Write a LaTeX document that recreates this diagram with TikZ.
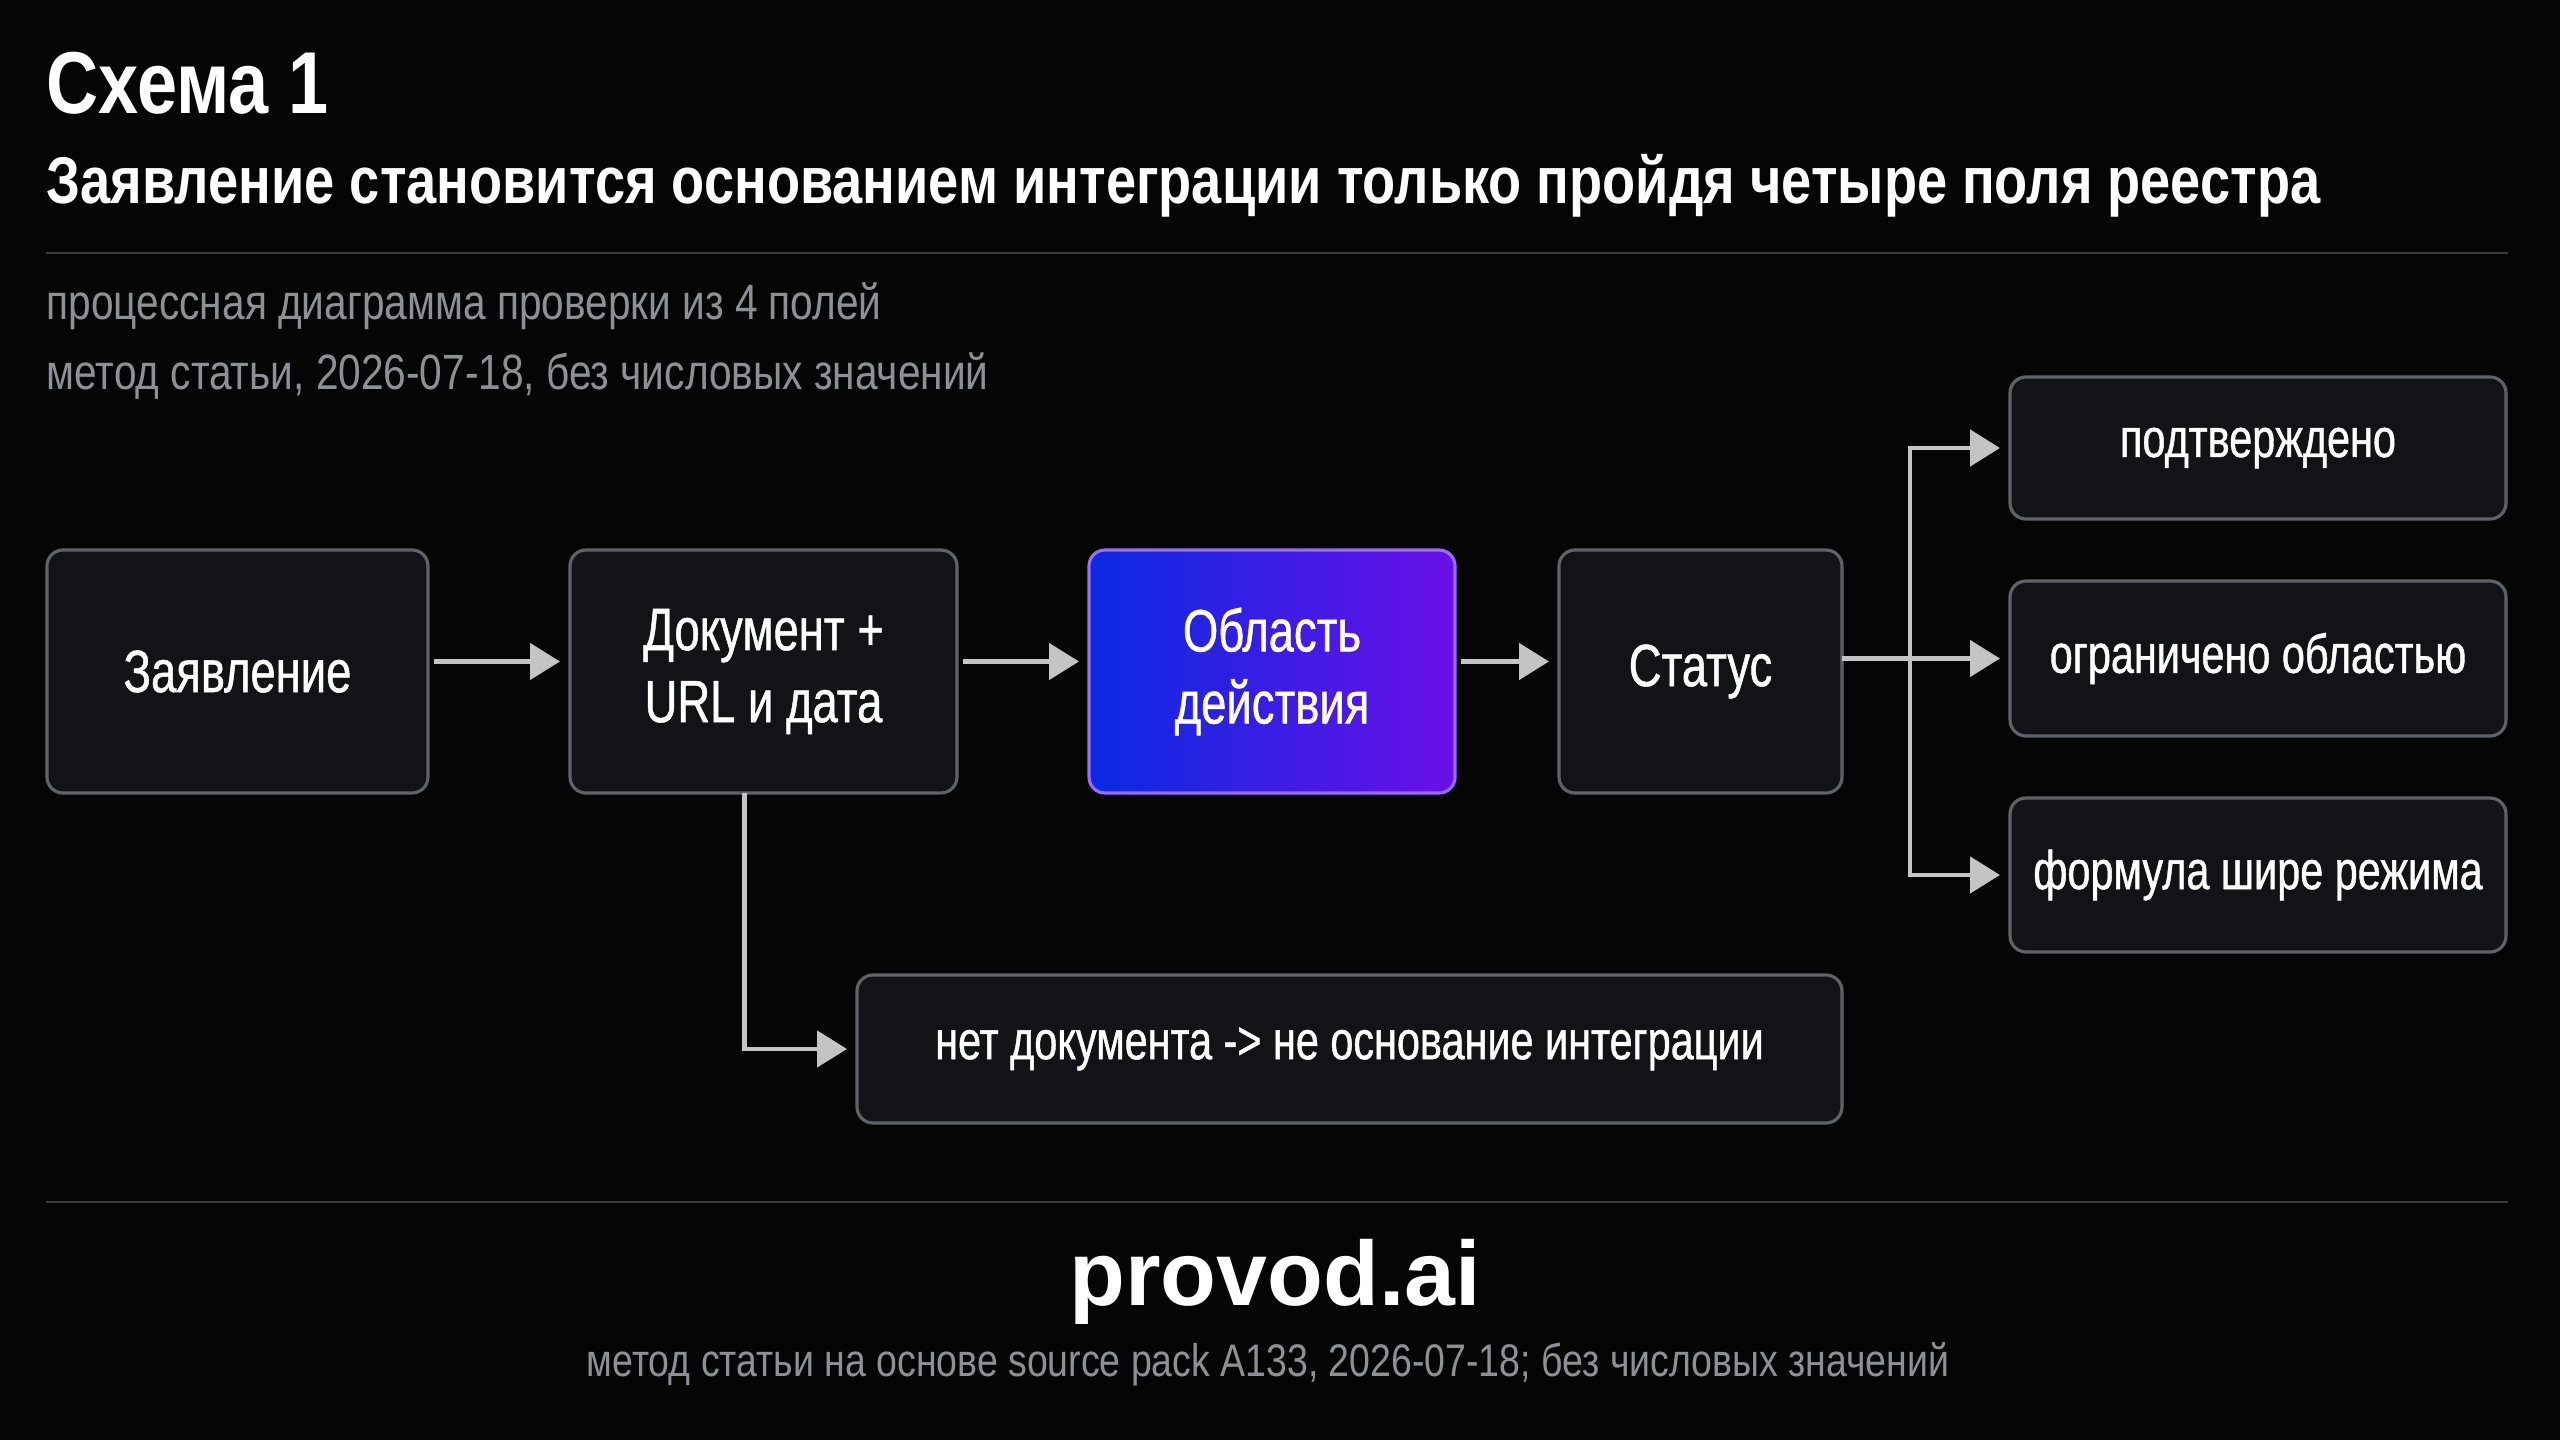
\documentclass[tikz,border=0pt]{standalone}
\usepackage{fontspec}
\setmainfont{Liberation Sans}[FakeStretch=0.82]
\newfontfamily\brandfont{Liberation Sans}
\newfontfamily\boxfont{Liberation Sans}[FakeStretch=0.76, FakeBold=0.8]
\usepackage{xcolor}
\usepackage{tikz}
\usetikzlibrary{arrows.meta,shapes,fit,calc,positioning}

\definecolor{bg}{HTML}{050505}
\definecolor{boxfill}{HTML}{111316}
\definecolor{boxline}{HTML}{5F6266}
\definecolor{arrowc}{HTML}{C4C4C4}
\definecolor{muted}{HTML}{8E9096}
\definecolor{rulec}{HTML}{3B3B3B}
\definecolor{oblL}{HTML}{0A2AE0}
\definecolor{oblR}{HTML}{6A10E8}
\definecolor{oblB}{HTML}{9A6BFF}

\begin{document}
\begin{tikzpicture}[
  >={Triangle[length=0.3cm,width=0.36cm]},
  box/.style={draw=boxline, line width=0.9pt, fill=boxfill, rounded corners=0.16cm, text=white, align=center, outer sep=0pt, font=\boxfont\fontsize{15.5}{20}\selectfont},
  mainbox/.style={box, minimum height=2.43cm, font=\boxfont\fontsize{17}{20.5}\selectfont},
  flow/.style={->, draw=arrowc, line width=1.4pt, shorten >=0.1cm, shorten <=0.06cm},
  txt/.style={anchor=base west, inner sep=0pt}
]
\fill[bg] (0,0) rectangle (25.6,14.4);
\useasboundingbox (0,0) rectangle (25.6,14.4);

\coordinate(O1) at (0,14.4);

\node[txt, text=white, font=\bfseries\fontsize{25}{30}\selectfont](ttl) at (0.46,13.26) {Схема 1};
\node[txt, text=white, font=\bfseries\fontsize{18.8}{22}\selectfont](sub) at (0.46,12.36) {Заявление становится основанием интеграции только пройдя четыре поля реестра};
\node[txt, text=muted, font=\fontsize{14.1}{17}\selectfont](m1) at (0.46,11.20) {процессная диаграмма проверки из 4 полей};
\node[txt, text=muted, font=\fontsize{14.1}{17}\selectfont](m2) at (0.46,10.50) {метод статьи, 2026-07-18, без числовых значений};
\draw[rulec, line width=0.6pt] (0.46,11.87) -- (25.08,11.87);

\node[mainbox, below right=5.5cm and 0.47cm of O1, minimum width=3.81cm](zv) {Заявление};
\node[mainbox, below right=5.5cm and 5.7cm of O1, minimum width=3.87cm](doc) {Документ +\\URL и дата};
\node[mainbox, below right=5.5cm and 10.89cm of O1, minimum width=3.66cm, left color=oblL, right color=oblR, draw=oblB](obl) {Область\\действия};
\node[mainbox, below right=5.5cm and 15.59cm of O1, minimum width=2.83cm](st) {Статус};

\node[box, below right=3.77cm and 20.1cm of O1, minimum width=4.96cm, minimum height=1.42cm](ok) {подтверждено};
\node[box, below right=5.81cm and 20.1cm of O1, minimum width=4.96cm, minimum height=1.55cm](lim) {ограничено областью};
\node[box, below right=7.98cm and 20.1cm of O1, minimum width=4.96cm, minimum height=1.54cm](wide) {формула шире режима};
\node[box, below right=9.75cm and 8.57cm of O1, minimum width=9.85cm, minimum height=1.48cm](nodoc) {нет документа -> не основание интеграции};

\draw[flow] ([yshift=1mm]zv.east) -- ([yshift=1mm]doc.west);
\draw[flow] ([yshift=1mm]doc.east) -- ([yshift=1mm]obl.west);
\draw[flow] ([yshift=1mm]obl.east) -- ([yshift=1mm]st.west);
\draw[flow, shorten <=0pt] ([xshift=-1.9mm]doc.south) |- (nodoc);

\coordinate(fork) at ($(st.east |- lim)+(0.68,0)$);
\draw[flow, shorten <=0pt] (st.east |- lim) -- (lim);
\draw[flow, shorten <=0pt] (fork) |- (ok);
\draw[flow, shorten <=0pt] (fork) |- (wide);

\draw[rulec, line width=0.6pt] (0.46,2.38) -- (25.08,2.38);
\node[anchor=base, inner sep=0pt, text=white, font=\brandfont\bfseries\fontsize{26}{30}\selectfont](brand) at (12.75,1.34) {provod.ai};
\node[anchor=base, inner sep=0pt, text=muted, font=\fontsize{13}{16}\selectfont](foot) at (12.68,0.64) {метод статьи на основе source pack A133, 2026-07-18; без числовых значений};
\end{tikzpicture}
\end{document}
